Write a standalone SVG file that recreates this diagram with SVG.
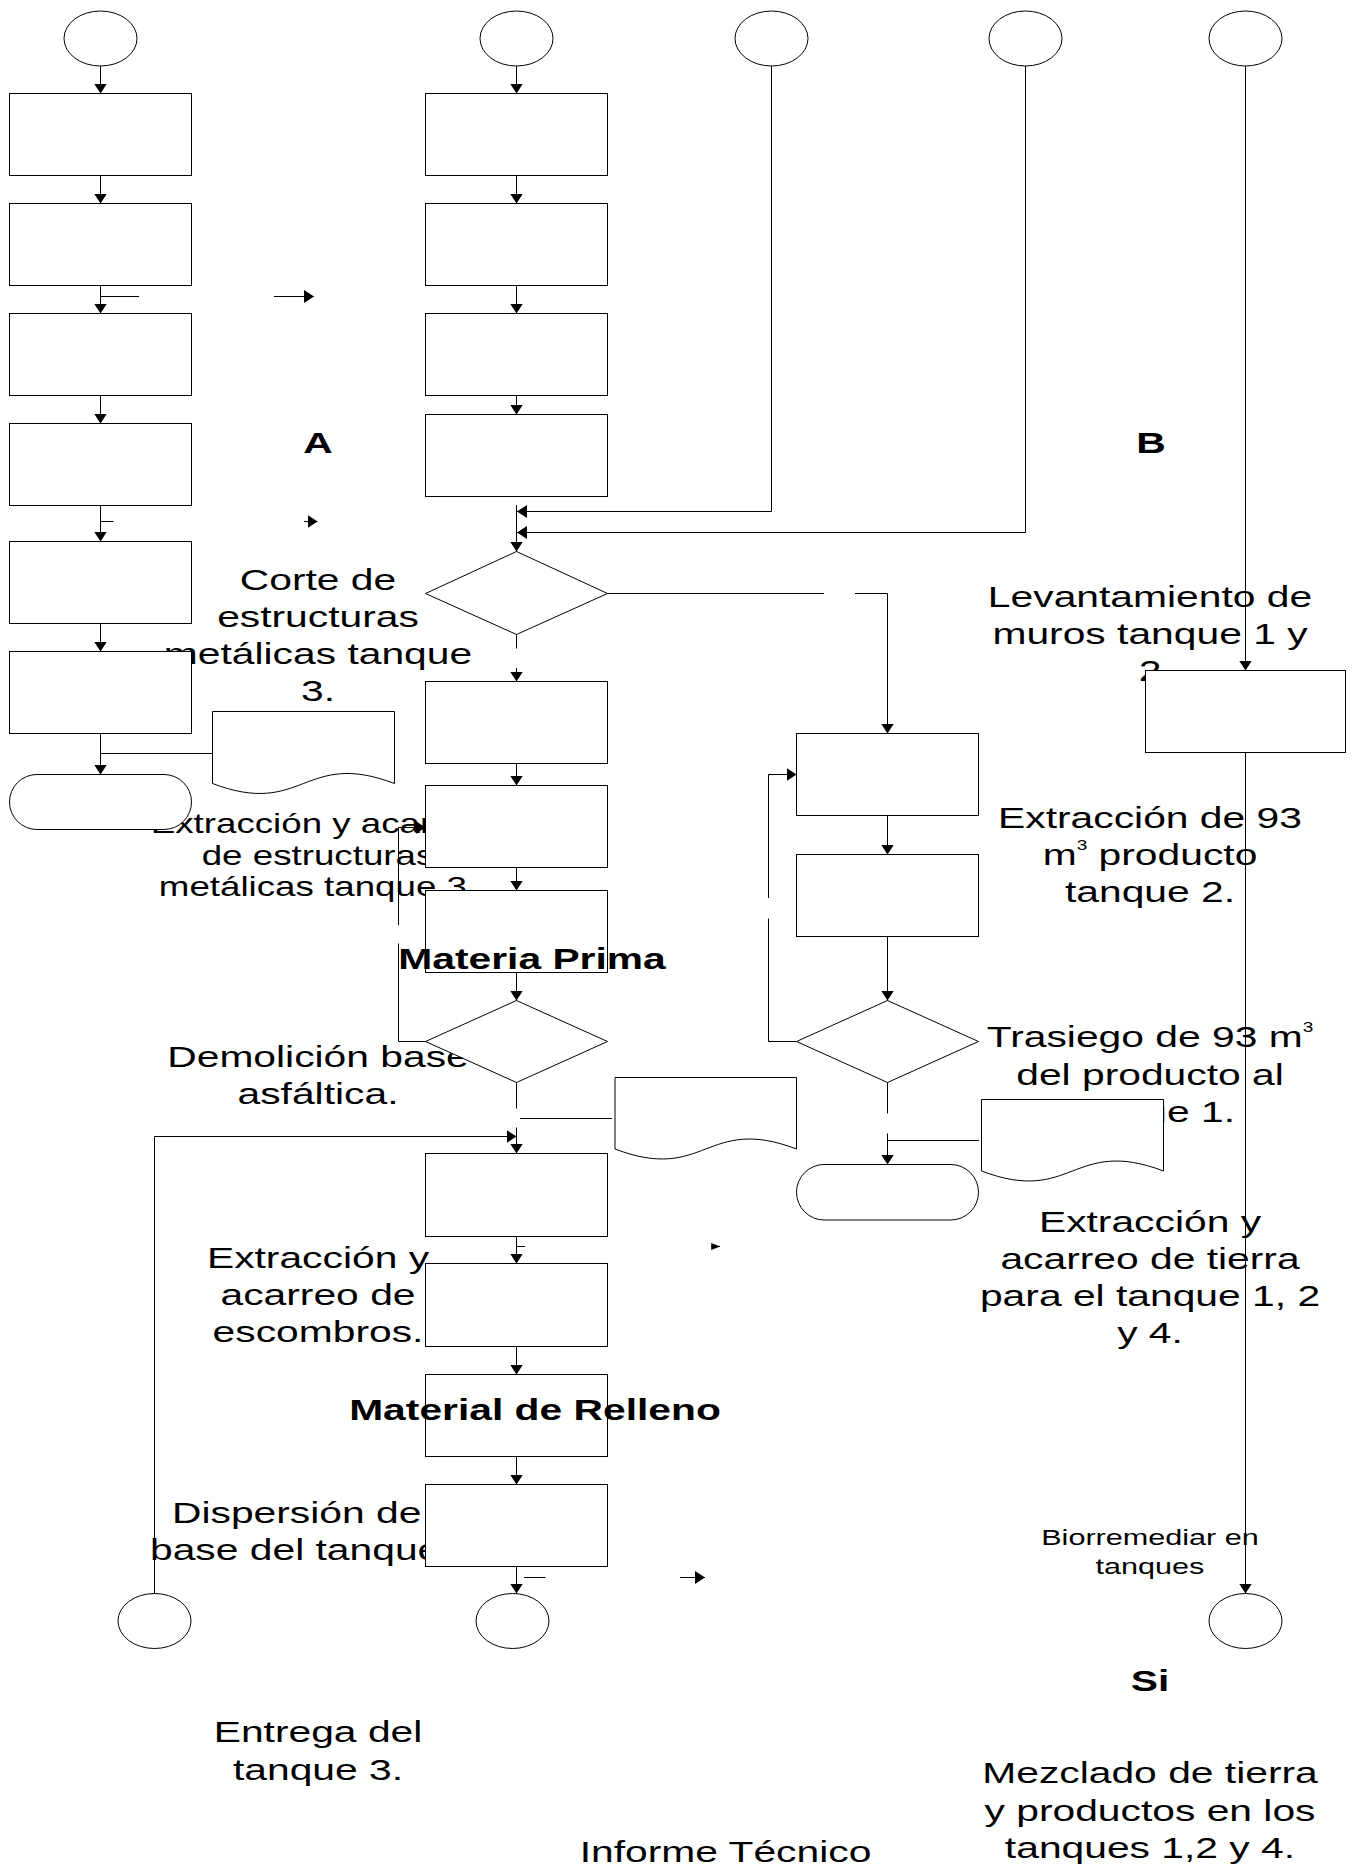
<svg xmlns="http://www.w3.org/2000/svg" width="1356" height="1865" viewBox="0 0 1356 1865">
<style>
.t{font-family:"Liberation Sans",Arial,sans-serif;font-size:30px;fill:#000;text-anchor:middle}
.s{text-anchor:start}
.b{font-weight:bold}
.sh{fill:#fff;stroke:#000;stroke-width:1}
.c{fill:none;stroke:#000;stroke-width:1}
.a{marker-end:url(#ah)}
.as{marker-end:url(#ahs)}
</style>
<defs>
<marker id="ah" viewBox="0 0 10 13" refX="10" refY="6.5" markerWidth="10" markerHeight="13" markerUnits="userSpaceOnUse" orient="auto"><path d="M0,0 L10,6.5 L0,13 z" fill="#000"/></marker>
<marker id="ahs" viewBox="0 0 10 8" refX="10" refY="4" markerWidth="9" markerHeight="7" markerUnits="userSpaceOnUse" orient="auto"><path d="M0,0 L10,4 L0,8 z" fill="#000"/></marker>
</defs>
<rect width="1356" height="1865" fill="#fff"/>

<g id="labels">
<g transform="translate(318 0) scale(1.36 1)"><text class="t"><tspan x="0" y="590">Corte de</tspan><tspan x="0" y="627">estructuras</tspan><tspan x="0" y="664">metálicas tanque</tspan><tspan x="0" y="701">3.</tspan></text></g>
<g transform="translate(318 0) scale(1.36 1)"><text class="t" style="font-size:27px"><tspan x="0" y="833">Extracción y acarreo</tspan><tspan x="0" y="865">de estructuras</tspan><tspan x="0" y="896">metálicas tanque 3.</tspan></text></g>
<g transform="translate(318 0) scale(1.36 1)"><text class="t"><tspan x="0" y="1067">Demolición base</tspan><tspan x="0" y="1104">asfáltica.</tspan></text></g>
<g transform="translate(318 0) scale(1.36 1)"><text class="t"><tspan x="0" y="1268">Extracción y</tspan><tspan x="0" y="1305">acarreo de</tspan><tspan x="0" y="1342">escombros.</tspan></text></g>
<g transform="translate(172 0) scale(1.36 1)"><text class="t s"><tspan x="0" y="1523.5">Dispersión de</tspan></text></g>
<g transform="translate(150 0) scale(1.36 1)"><text class="t s"><tspan x="0" y="1560.5">base del tanque</tspan></text></g>
<g transform="translate(318 0) scale(1.36 1)"><text class="t"><tspan x="0" y="1742.5">Entrega del</tspan><tspan x="0" y="1780.5">tanque 3.</tspan></text></g>
<g transform="translate(725.5 0) scale(1.36 1)"><text class="t"><tspan x="0" y="1862">Informe Técnico</tspan></text></g>
<g transform="translate(1150 0) scale(1.36 1)"><text class="t"><tspan x="0" y="607">Levantamiento de</tspan><tspan x="0" y="644">muros tanque 1 y</tspan><tspan x="0" y="681">2</tspan></text></g>
<g transform="translate(1150 0) scale(1.36 1)"><text class="t"><tspan x="0" y="828.5">Extracción de 93</tspan><tspan x="0" y="865.5">m<tspan style="font-size:14px" dy="-15">3</tspan><tspan dy="15"> producto</tspan></tspan><tspan x="0" y="902">tanque 2.</tspan></text></g>
<g transform="translate(1150 0) scale(1.36 1)"><text class="t"><tspan x="0" y="1047">Trasiego de 93 m<tspan style="font-size:14px" dy="-15">3</tspan></tspan><tspan x="0" y="1085">del producto al</tspan><tspan x="0" y="1122">tanque 1.</tspan></text></g>
<g transform="translate(1150 0) scale(1.36 1)"><text class="t"><tspan x="0" y="1232.5">Extracción y</tspan><tspan x="0" y="1269.5">acarreo de tierra</tspan><tspan x="0" y="1306">para el tanque 1, 2</tspan><tspan x="0" y="1343.5">y 4.</tspan></text></g>
<g transform="translate(1150 0) scale(1.36 1)"><text class="t" style="font-size:22.5px"><tspan x="0" y="1545.5">Biorremediar en</tspan><tspan x="0" y="1574">tanques</tspan></text></g>
<g transform="translate(1150 0) scale(1.36 1)"><text class="t"><tspan x="0" y="1783.5">Mezclado de tierra</tspan><tspan x="0" y="1821.5">y productos en los</tspan><tspan x="0" y="1858.5">tanques 1,2 y 4.</tspan></text></g>
<g transform="translate(318 0) scale(1.36 1)"><text class="t b" x="0" y="453">A</text></g>
<g transform="translate(1151 0) scale(1.36 1)"><text class="t b" x="0" y="453">B</text></g>
<g transform="translate(1150 0) scale(1.36 1)"><text class="t b" x="0" y="1691">Si</text></g>
</g>

<g id="n-start1"><ellipse class="sh" cx="100.5" cy="38.5" rx="36.5" ry="27.5"/></g>
<g id="n-start2"><ellipse class="sh" cx="516.5" cy="38.5" rx="36.5" ry="27.5"/></g>
<g id="n-start3"><ellipse class="sh" cx="771.5" cy="38.5" rx="36.5" ry="27.5"/></g>
<g id="n-start4"><ellipse class="sh" cx="1025.5" cy="38.5" rx="36.5" ry="27.5"/></g>
<g id="n-start5"><ellipse class="sh" cx="1245.5" cy="38.5" rx="36.5" ry="27.5"/></g>

<g id="n-L1"><rect class="sh" x="9.5" y="93.5" width="182" height="82"/></g>
<g id="n-L2"><rect class="sh" x="9.5" y="203.5" width="182" height="82"/></g>
<g id="n-L3"><rect class="sh" x="9.5" y="313.5" width="182" height="82"/></g>
<g id="n-L4"><rect class="sh" x="9.5" y="423.5" width="182" height="82"/></g>
<g id="n-L5"><rect class="sh" x="9.5" y="541.5" width="182" height="82"/></g>
<g id="n-L6"><rect class="sh" x="9.5" y="651.5" width="182" height="82"/></g>
<g id="n-Lend"><rect class="sh" x="9.5" y="774.5" width="182" height="55" rx="27.5" ry="27.5"/></g>
<g id="n-Ldoc"><path class="sh" d="M212.5,711.5 H394.5 V783.5 C303.5,748.9 303.5,818.1 212.5,783.5 Z"/></g>

<g id="n-M1"><rect class="sh" x="425.5" y="93.5" width="182" height="82"/></g>
<g id="n-M2"><rect class="sh" x="425.5" y="203.5" width="182" height="82"/></g>
<g id="n-M3"><rect class="sh" x="425.5" y="313.5" width="182" height="82"/></g>
<g id="n-M4"><rect class="sh" x="425.5" y="414.5" width="182" height="82"/></g>
<g id="n-D1"><path class="sh" d="M516.5,551.5 L607.5,593.5 L516.5,634.5 L425.5,593.5 Z"/></g>
<g id="n-M5"><rect class="sh" x="425.5" y="681.5" width="182" height="82"/></g>
<g id="n-M6"><rect class="sh" x="425.5" y="785.5" width="182" height="82"/></g>
<g id="n-M7"><rect class="sh" x="425.5" y="890.5" width="182" height="82"/></g>
<g id="n-D2"><path class="sh" d="M516.5,1000.5 L607.5,1041.5 L516.5,1082.5 L425.5,1041.5 Z"/></g>
<g id="n-Mdoc"><path class="sh" d="M615,1077.5 H796.5 V1149 C705.75,1114.4 705.75,1183.6 615,1149 Z"/></g>
<g id="n-M8"><rect class="sh" x="425.5" y="1153.5" width="182" height="83"/></g>
<g id="n-M9"><rect class="sh" x="425.5" y="1263.5" width="182" height="83"/></g>
<g id="n-M10"><rect class="sh" x="425.5" y="1374.5" width="182" height="82"/></g>
<g id="n-M11"><rect class="sh" x="425.5" y="1484.5" width="182" height="82"/></g>

<g id="n-RA"><rect class="sh" x="796.5" y="733.5" width="182" height="82"/></g>
<g id="n-RB"><rect class="sh" x="796.5" y="854.5" width="182" height="82"/></g>
<g id="n-D3"><path class="sh" d="M887.5,1000.5 L978.5,1041.5 L887.5,1082.5 L796.5,1041.5 Z"/></g>
<g id="n-Rend"><rect class="sh" x="796.5" y="1164.5" width="182" height="55.5" rx="27.75" ry="27.75"/></g>
<g id="n-Rdoc"><path class="sh" d="M981.5,1099.5 H1163.5 V1171 C1072.5,1136.4 1072.5,1205.6 981.5,1171 Z"/></g>
<g id="n-RC"><rect class="sh" x="1145.5" y="670.5" width="200" height="82"/></g>

<g id="n-end1"><ellipse class="sh" cx="154.5" cy="1621" rx="36.5" ry="27.5"/></g>
<g id="n-end2"><ellipse class="sh" cx="512.5" cy="1621" rx="36.5" ry="27.5"/></g>
<g id="n-end3"><ellipse class="sh" cx="1245.5" cy="1621" rx="36.5" ry="27.5"/></g>

<g id="connectors">
<path class="c a" d="M100.5,66 V93.5"/>
<path class="c a" d="M100.5,175.5 V203.5"/>
<path class="c a" d="M100.5,285.5 V313.5"/>
<path class="c a" d="M100.5,395.5 V423.5"/>
<path class="c a" d="M100.5,505.5 V541.5"/>
<path class="c a" d="M100.5,623.5 V651.5"/>
<path class="c a" d="M100.5,733.5 V774.5"/>
<path class="c" d="M100.5,296.5 H139"/>
<path class="c" d="M100.5,521.5 H113.5"/>
<path class="c a" d="M274,296.5 H314"/>
<path class="c a" d="M304,521.5 H317.5"/>
<path class="c" d="M100.5,753.5 H212.5"/>
<path class="c a" d="M154.5,1593.5 V1136.5 H516.5"/>

<path class="c a" d="M516.5,66 V93.5"/>
<path class="c a" d="M516.5,175.5 V203.5"/>
<path class="c a" d="M516.5,285.5 V313.5"/>
<path class="c a" d="M516.5,395.5 V414.5"/>
<path class="c a" d="M516.5,505 V551.5"/>
<path class="c a" d="M771.5,66 V511.5 H517"/>
<path class="c a" d="M1025.5,66 V532.5 H517"/>
<path class="c" d="M516.5,634.5 V648.5"/>
<path class="c a" d="M516.5,668 V681.5"/>
<path class="c a" d="M516.5,763.5 V785.5"/>
<path class="c a" d="M516.5,867.5 V890.5"/>
<path class="c a" d="M516.5,972.5 V1000.5"/>
<path class="c" d="M516.5,1082.5 V1108.5"/>
<path class="c a" d="M516.5,1127.5 V1153.5"/>
<path class="c" d="M520,1118.5 H612"/>
<path class="c" d="M425.5,1041.5 H398.5 V943.5"/>
<path class="c a" d="M398.5,925 V827.5 H425.5"/>
<path class="c a" d="M516.5,1236.5 V1263.5"/>
<path class="c" d="M516.5,1246.5 H525"/>
<path class="c as" d="M711,1246.5 H720"/>
<path class="c a" d="M516.5,1346.5 V1374.5"/>
<path class="c a" d="M516.5,1456.5 V1484.5"/>
<path class="c a" d="M516.5,1566.5 V1593.5"/>
<path class="c" d="M524,1577.5 H545.5"/>
<path class="c a" d="M680,1577.5 H705"/>

<path class="c" d="M607.5,593.5 H824"/>
<path class="c a" d="M855,593.5 H887.5 V733.5"/>
<path class="c a" d="M887.5,815.5 V854.5"/>
<path class="c a" d="M887.5,936.5 V1000.5"/>
<path class="c" d="M796.5,1041.5 H768.5 V918.5"/>
<path class="c a" d="M768.5,898 V774.5 H796.5"/>
<path class="c" d="M887.5,1082.5 V1113.5"/>
<path class="c a" d="M887.5,1133.5 V1164.5"/>
<path class="c" d="M887.5,1140.5 H979"/>
<path class="c a" d="M1245.5,66 V670.5"/>
<path class="c a" d="M1245.5,752.5 V1593.5"/>
</g>

<g id="bold-labels">
<g transform="translate(532 0) scale(1.36 1)"><text class="t b" x="0" y="969">Materia Prima</text></g>
<g transform="translate(535 0) scale(1.36 1)"><text class="t b" x="0" y="1420">Material de Relleno</text></g>
</g>
</svg>
